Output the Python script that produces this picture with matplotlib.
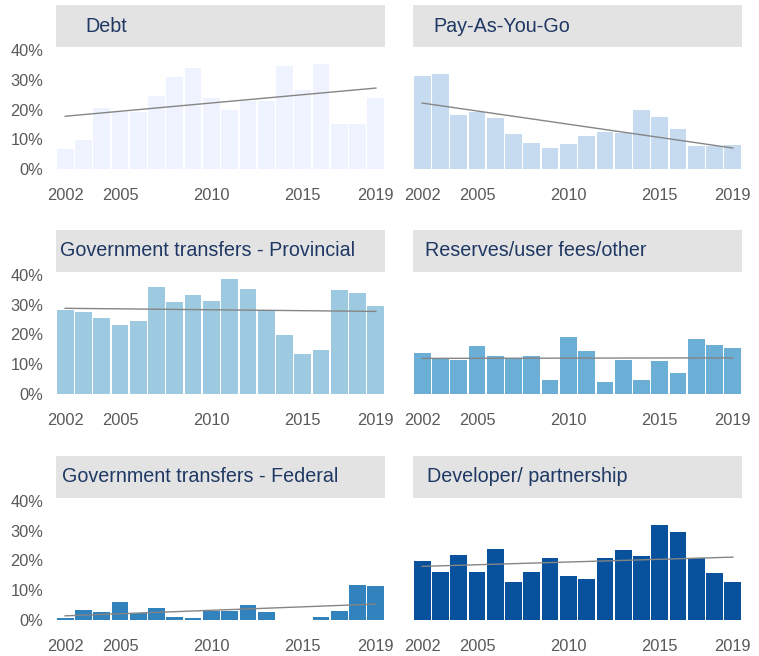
# small multiples: share of capital funding by source, 2002-2019

import numpy as np
import matplotlib
matplotlib.use('Agg')
import matplotlib.pyplot as plt
from matplotlib.patches import Rectangle

plt.rcParams['font.family'] = ['Liberation Sans', 'DejaVu Sans']

years = list(range(2002, 2020))
tick_years = [2002, 2005, 2010, 2015, 2019]

debt = [6.6, 9.8, 20.6, 19.1, 19.1, 24.4, 31.0, 33.9, 24.0, 19.7, 22.9, 22.7,
        34.6, 26.6, 35.3, 15.2, 15.0, 23.9]
payg = [31.3, 31.9, 18.1, 19.0, 17.3, 11.6, 8.7, 7.0, 8.4, 11.2, 12.3, 12.1,
        19.9, 17.6, 13.3, 7.7, 7.7, 7.9]
provincial = [28.3, 27.4, 25.7, 23.1, 24.4, 36.0, 30.8, 33.4, 31.1, 38.7, 35.4,
              28.1, 19.8, 13.4, 14.7, 35.1, 34.0, 29.7]
reserves = [13.7, 11.6, 11.3, 16.3, 12.9, 12.0, 12.9, 4.6, 19.0, 14.3, 4.0,
            11.4, 4.8, 11.1, 6.9, 18.4, 16.6, 15.3]
federal = [0.7, 3.4, 2.6, 6.1, 2.2, 4.0, 0.9, 0.7, 2.9, 2.9, 4.9, 2.6, 0.0, 0.0,
           1.0, 3.0, 11.6, 11.3]
developer = [19.8, 16.1, 21.8, 16.1, 24.0, 12.7, 16.1, 20.8, 14.8, 13.7, 20.9,
             23.4, 21.6, 31.8, 29.6, 20.7, 15.8, 12.7]

titles = ['Debt', 'Pay-As-You-Go', 'Government transfers - Provincial',
          'Reserves/user fees/other', 'Government transfers - Federal',
          'Developer/ partnership']
series = [debt, payg, provincial, reserves, federal, developer]
colors = ['#eff3ff', '#c6dbef', '#9ecae1', '#6baed6', '#3182bd', '#08519c']
title_pad = [29, 20, 4, 12, 6, 14]   # px from box edge to title text

W, H = 759, 656
fig = plt.figure(figsize=(W / 100., H / 100.), dpi=100)

col_x = [56, 413]
row_bottom = [169, 394, 620]
ax_w, ax_h = 329, 119
box_top = [5, 230, 456]
box_h = 42

x = np.arange(len(years))
for k in range(6):
    r, c = k // 2, k % 2
    left = col_x[c] / W
    bottom = 1 - row_bottom[r] / H
    ax = fig.add_axes([left, bottom, ax_w / W, ax_h / H])
    vals = np.array(series[k])
    ax.bar(x, vals, width=0.92, color=colors[k], zorder=2)

    # linear trend line
    p = np.polyfit(x, vals, 1)
    ax.plot(x, np.polyval(p, x), color='#858585', lw=1, zorder=3)

    ax.set_xlim(-0.5, len(years) - 0.5)
    ax.set_ylim(0, 40)
    ax.set_xticks([years.index(y) for y in tick_years])
    ax.set_xticklabels([str(y) for y in tick_years], fontsize=11.8, color='#595959')
    ax.tick_params(axis='x', length=0, pad=14)
    ax.set_yticks([0, 10, 20, 30, 40])
    if c == 0:
        ax.set_yticklabels(['%d%%' % v for v in [0, 10, 20, 30, 40]],
                           fontsize=11.8, color='#595959')
    else:
        ax.set_yticklabels([])
    ax.tick_params(axis='y', length=0, pad=9)
    for s in ax.spines.values():
        s.set_visible(False)

    # grey title box above each panel
    by = 1 - (box_top[r] + box_h) / H
    fig.patches.append(Rectangle((left, by), ax_w / W, box_h / H,
                                 transform=fig.transFigure,
                                 facecolor='#e3e3e3', edgecolor='none', zorder=0))
    fig.text((col_x[c] + title_pad[k]) / W, by + box_h / H / 2, titles[k],
             fontsize=14.2, color='#1f3864', va='center', ha='left')

plt.savefig('out.png', dpi=100)
